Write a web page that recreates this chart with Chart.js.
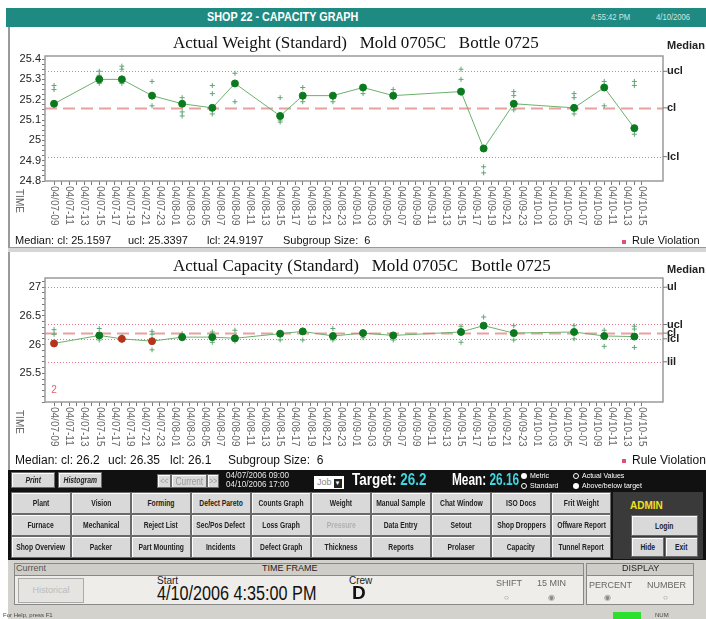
<!DOCTYPE html>
<html>
<head>
<meta charset="utf-8">
<script src="https://cdn.jsdelivr.net/npm/chart.js@4.4.1/dist/chart.umd.min.js"></script>
<style>
  body { margin: 0; width: 706px; height: 619px; position: relative; background: #fff; overflow: hidden;
         font-family: "Liberation Sans", Arial, sans-serif; }
  .abs { position: absolute; white-space: nowrap; }
  .sq { display: inline-block; transform-origin: left center; }
  #header { left: 6px; top: 8px; width: 700px; height: 19px; background: #1f8a82; }
  .panel { position: absolute; left: 8px; width: 698px; background: #fff; border-left: 2px solid #9a9a9a; }
  .title { font-family: "Liberation Serif", "Times New Roman", serif; font-size: 17px; color: #111; }
  .foot { font-size: 11px; color: #111; }
  .side { font-size: 11px; font-weight: bold; color: #222; }
  .btn { position: absolute; background: #d9d9d9; border: 1px solid #6a6a6a; box-sizing: border-box;
         font-weight: bold; font-size: 9px; color: #222; text-align: center; white-space: nowrap;
         display: flex; align-items: center; justify-content: center; overflow: hidden;
         box-shadow: inset 1px 1px 0 #fff; }
  .btn span { display: inline-block; transform: scaleX(0.75); }
  .rad { display: inline-block; width: 6px; height: 6px; border-radius: 50%; background: #fff; margin-right: 3px; vertical-align: middle; }
</style>
</head>
<body>
<div id="header" class="abs"></div>
<div class="abs" style="left:207px;top:10px;font-size:12px;font-weight:bold;color:#fff;"><span class="sq" style="transform:scaleX(0.9);">SHOP 22 - CAPACITY GRAPH</span></div>
<div class="abs" style="left:591px;top:12px;font-size:9px;color:#cfe6e3;"><span class="sq" style="transform:scaleX(0.85);">4:55:42 PM</span></div>
<div class="abs" style="left:656px;top:12px;font-size:9px;color:#cfe6e3;"><span class="sq" style="transform:scaleX(0.85);">4/10/2006</span></div>

<div class="panel" style="top:27px;height:220px;"></div>
<div class="abs" style="left:8px;top:247px;width:698px;height:4px;background:#d6d6d6;border-top:1px solid #999;border-bottom:1px solid #999;"></div>
<div class="panel" style="top:252px;height:218px;"></div>

<canvas id="weightChart" width="696" height="217" class="abs" style="left:10px;top:27px;"></canvas>
<canvas id="capacityChart" width="696" height="217" class="abs" style="left:10px;top:251px;"></canvas>

<div class="abs title" style="left:173px;top:33px;">Actual Weight (Standard)&nbsp;&nbsp;&nbsp;Mold 0705C&nbsp;&nbsp;&nbsp;Bottle 0725</div>
<div class="abs side" style="left:667px;top:39px;">Median</div>
<div class="abs foot" style="left:15px;top:234px;">Median: cl: 25.1597</div>
<div class="abs foot" style="left:128px;top:234px;">ucl: 25.3397</div>
<div class="abs foot" style="left:207px;top:234px;">lcl: 24.9197</div>
<div class="abs foot" style="left:283px;top:234px;">Subgroup Size:&nbsp; 6</div>
<div class="abs" style="left:622px;top:240px;width:4px;height:4px;background:#e05070;"></div>
<div class="abs foot" style="left:632px;top:234px;">Rule Violation</div>

<div class="abs title" style="left:173px;top:256px;">Actual Capacity (Standard)&nbsp;&nbsp;&nbsp;Mold 0705C&nbsp;&nbsp;&nbsp;Bottle 0725</div>
<div class="abs side" style="left:667px;top:263px;">Median</div>
<div class="abs foot" style="left:15px;top:453px;font-size:12px;">Median: cl: 26.2</div>
<div class="abs foot" style="left:108px;top:453px;font-size:12px;">ucl: 26.35</div>
<div class="abs foot" style="left:170px;top:453px;font-size:12px;">lcl: 26.1</div>
<div class="abs foot" style="left:228px;top:453px;font-size:12px;">Subgroup Size:&nbsp; 6</div>
<div class="abs" style="left:622px;top:459px;width:4px;height:4px;background:#e05070;"></div>
<div class="abs foot" style="left:632px;top:453px;font-size:12px;">Rule Violation</div>

<!-- black control bar -->
<div class="abs" style="left:8px;top:470px;width:698px;height:90px;background:#111;"></div>
<div class="btn" style="left:11px;top:472px;width:44px;height:16px;font-style:italic;"><span>Print</span></div>
<div class="btn" style="left:58px;top:472px;width:44px;height:16px;font-style:italic;"><span>Histogram</span></div>
<div class="btn" style="left:157px;top:474px;width:14px;height:14px;color:#999;font-weight:normal;"><span>&lt;&lt;</span></div>
<div class="btn" style="left:171px;top:474px;width:36px;height:14px;color:#999;font-weight:normal;font-size:11px;"><span>Current</span></div>
<div class="btn" style="left:207px;top:474px;width:12px;height:14px;color:#999;font-weight:normal;"><span>&gt;&gt;</span></div>
<div class="abs" style="left:226px;top:471px;font-size:9px;color:#e8e8e8;line-height:9px;"><span class="sq" style="transform:scaleX(0.9);">04/07/2006 09:00<br>04/10/2006 17:00</span></div>
<div class="abs" style="left:314px;top:476px;width:30px;height:13px;background:#fff;font-size:9px;color:#888;line-height:13px;padding-left:3px;box-sizing:border-box;">Job<span style="display:inline-block;width:8px;height:9px;background:#222;color:#fff;font-size:6px;line-height:9px;text-align:center;margin-left:2px;">&#9660;</span></div>
<div class="abs" style="left:352px;top:471px;font-size:16px;font-weight:bold;color:#fff;"><span class="sq" style="transform:scaleX(0.84);">Target: <span style="color:#3ed6e0;">26.2</span></span></div>
<div class="abs" style="left:452px;top:471px;font-size:16px;font-weight:bold;color:#fff;"><span class="sq" style="transform:scaleX(0.74);">Mean: <span style="color:#3ed6e0;">26.16</span></span></div>
<div class="abs" style="left:521px;top:471px;font-size:7px;color:#fff;line-height:10px;"><span class="rad"></span>Metric<br><span class="rad" style="background:#111;border:1px solid #fff;width:4px;height:4px;"></span>Standard</div>
<div class="abs" style="left:573px;top:471px;font-size:7px;color:#fff;line-height:10px;"><span class="rad" style="background:#111;border:1px solid #fff;width:4px;height:4px;"></span>Actual Values<br><span class="rad"></span>Above/below target</div>

<div id="grid"></div>
<div class="abs" style="left:613px;top:492px;width:90px;height:67px;background:#3a3a3a;"></div>
<div class="abs" style="left:630px;top:500px;font-size:10px;font-weight:bold;color:#f0e020;">ADMIN</div>
<div class="btn" style="left:631px;top:515px;width:67px;height:21px;"><span>Login</span></div>
<div class="btn" style="left:631px;top:537px;width:33px;height:20px;"><span>Hide</span></div>
<div class="btn" style="left:665px;top:537px;width:33px;height:20px;"><span>Exit</span></div>

<!-- time frame panel -->
<div class="abs" style="left:8px;top:560px;width:698px;height:59px;background:#d4d2cc;"></div>
<div class="abs" style="left:14px;top:563px;width:568px;height:40px;border:1px solid #888;background:#eeede9;"></div>
<div class="abs" style="left:14px;top:563px;width:568px;height:11px;border:1px solid #888;background:#cfcdc7;"></div>
<div class="abs" style="left:16px;top:563px;font-size:9px;color:#555;">Current</div>
<div class="abs" style="left:262px;top:563px;font-size:9px;color:#222;">TIME FRAME</div>
<div class="abs" style="left:18px;top:578px;width:64px;height:23px;background:#e6e4e0;border:1px solid #aaa;font-size:9px;color:#bbb;text-align:center;line-height:23px;">Historical</div>
<div class="abs" style="left:157px;top:575px;font-size:10px;color:#222;">Start</div>
<div class="abs" style="left:157px;top:582px;font-size:20px;color:#111;"><span class="sq" style="transform:scaleX(0.81);">4/10/2006 4:35:00 PM</span></div>
<div class="abs" style="left:349px;top:575px;font-size:10px;color:#222;">Crew</div>
<div class="abs" style="left:352px;top:582px;font-size:19px;font-weight:bold;color:#111;">D</div>
<div class="abs" style="left:496px;top:578px;font-size:9px;color:#666;">SHIFT</div>
<div class="abs" style="left:537px;top:578px;font-size:9px;color:#666;">15 MIN</div>
<div class="abs" style="left:504px;top:593px;font-size:8px;color:#888;">&#9675;</div>
<div class="abs" style="left:548px;top:593px;font-size:8px;color:#888;">&#9673;</div>
<div class="abs" style="left:586px;top:563px;width:106px;height:40px;border:1px solid #888;background:#eeede9;"></div>
<div class="abs" style="left:586px;top:563px;width:106px;height:11px;border:1px solid #888;background:#cfcdc7;"></div>
<div class="abs" style="left:622px;top:563px;font-size:9px;color:#222;">DISPLAY</div>
<div class="abs" style="left:589px;top:580px;font-size:9px;color:#666;">PERCENT</div>
<div class="abs" style="left:647px;top:580px;font-size:9px;color:#666;">NUMBER</div>
<div class="abs" style="left:604px;top:593px;font-size:8px;color:#888;">&#9673;</div>
<div class="abs" style="left:663px;top:593px;font-size:8px;color:#888;">&#9675;</div>
<div class="abs" style="left:3px;top:612px;font-size:6px;color:#444;">For Help, press F1</div>
<div class="abs" style="left:613px;top:612px;width:28px;height:7px;background:#2ee02e;"></div>
<div class="abs" style="left:655px;top:612px;font-size:6px;color:#444;">NUM</div>

<script>
// x axis: hours since 04/07 09:00, one label every 2 hours
const tickLabels = [
  '04/07-09', '04/07-11', '04/07-13', '04/07-15', '04/07-17', '04/07-19', '04/07-21', '04/07-23',
  '04/08-01', '04/08-03', '04/08-05', '04/08-07', '04/08-09', '04/08-11', '04/08-13', '04/08-15',
  '04/08-17', '04/08-19', '04/08-21', '04/08-23',
  '04/09-01', '04/09-03', '04/09-05', '04/09-07', '04/09-09', '04/09-11', '04/09-13', '04/09-15',
  '04/09-17', '04/09-19', '04/09-21', '04/09-23',
  '04/10-01', '04/10-03', '04/10-05', '04/10-07', '04/10-09', '04/10-11', '04/10-13', '04/10-15'
];

// sample times (hours after 04/07 09:00)
const sampleHours = [0, 6, 9, 13, 17, 21, 24, 30, 33, 37, 41, 45, 54, 57, 61, 69, 73, 77];

// weight chart
const weightMedians = [25.18, 25.30, 25.30, 25.22, 25.18, 25.16, 25.28, 25.12, 25.22, 25.22,
                       25.26, 25.22, 25.24, 24.96, 25.18, 25.16, 25.26, 25.06];
const weightReadings = [
  [25.27, 25.25], [25.34, 25.32, 25.28], [25.365, 25.35, 25.28], [25.29, 25.17],
  [25.21, 25.14, 25.12], [25.27, 25.23, 25.15, 25.13], [25.33, 25.19], [25.21, 25.10, 25.09],
  [25.26, 25.21, 25.19], [25.21, 25.19], [25.23], [25.25, 25.21], [25.35, 25.30, 25.23],
  [24.87, 24.84], [25.24, 25.22, 25.15], [25.23, 25.21, 25.15, 25.13], [25.29, 25.17],
  [25.29, 25.27, 25.03]
];
const weightLimitNames = ['ucl', 'cl', 'lcl'];
const weightLimitValues = [25.3397, 25.1597, 24.9197];
const weightTicks = [24.8, 24.9, 25, 25.1, 25.2, 25.3, 25.4];

// capacity chart
const capacityMedians = [26.02, 26.16, 26.10, 26.06, 26.13, 26.13, 26.11, 26.19, 26.23, 26.15,
                         26.20, 26.16, 26.22, 26.33, 26.20, 26.22, 26.15, 26.14];
const capacityViolation = [1, 0, 1, 1, 0, 0, 0, 0, 0, 0, 0, 0, 0, 0, 0, 0, 0, 0];
const capacityReadings = [
  [26.26, 26.18], [26.28, 26.08], [26.14, 26.07], [26.23, 26.18, 25.91], [26.19, 26.10],
  [26.22, 26.04], [26.25, 26.06], [26.08], [26.08], [26.28, 26.08], [26.12], [26.08],
  [26.32, 26.04], [26.48], [26.33, 26.08], [26.33, 26.10], [26.25, 25.97], [26.32, 26.27, 25.95]
];
const capacityLimitNames = ['ul', 'ucl', 'cl', 'lcl', 'lil'];
const capacityLimitValues = [27, 26.35, 26.2, 26.1, 25.7];
const capacityTicks = [25.5, 26, 26.5, 27];
const capacityNote = { hour: 0, value: 25.2, text: '2' };

const spcPlugin = {
  id: 'spc',
  beforeDatasetsDraw(chart, args, opts) {
    const { ctx, chartArea: a, scales: { y } } = chart;
    ctx.save();
    opts.names.forEach((name, i) => {
      const py = Math.round(y.getPixelForValue(opts.values[i])) + 0.5;
      const center = name === 'cl';
      ctx.beginPath();
      ctx.strokeStyle = center ? '#e8a0a0' : '#e2788a';
      ctx.lineWidth = center ? 2 : 1;
      ctx.setLineDash(center ? [12, 6] : [1, 2]);
      ctx.moveTo(a.left, py);
      ctx.lineTo(a.right, py);
      ctx.stroke();
    });
    ctx.restore();
  },
  afterDraw(chart, args, opts) {
    const { ctx, chartArea: a, scales: { x, y } } = chart;
    ctx.save();
    // plot frame
    ctx.strokeStyle = '#9a9a9a';
    ctx.lineWidth = 1.5;
    ctx.strokeRect(a.left, a.top, a.right - a.left, a.bottom - a.top);
    // limit names on the right
    ctx.font = 'bold 11px "Liberation Sans", Arial, sans-serif';
    ctx.fillStyle = '#222';
    ctx.strokeStyle = '#777';
    ctx.textBaseline = 'middle';
    ctx.lineWidth = 1;
    opts.names.forEach((name, i) => {
      const py = y.getPixelForValue(opts.values[i]);
      ctx.beginPath();
      ctx.moveTo(a.right, py);
      ctx.lineTo(a.right + 4, py);
      ctx.stroke();
      ctx.fillText(name, a.right + 4, py);
    });
    // rotated time labels
    ctx.font = '10px "Liberation Sans", Arial, sans-serif';
    ctx.fillStyle = '#666';
    ctx.textAlign = 'left';
    tickLabels.forEach((label, i) => {
      const px = x.getPixelForValue(i * 2);
      ctx.save();
      ctx.translate(px, a.bottom + 5);
      ctx.rotate(Math.PI / 2);
      ctx.fillText(label, 0, 0);
      ctx.restore();
    });
    ctx.save();
    ctx.translate(9, a.bottom + 8);
    ctx.rotate(Math.PI / 2);
    ctx.fillText('TIME', 0, 0);
    ctx.restore();
    if (opts.note) {
      ctx.font = '10px "Liberation Sans", Arial, sans-serif';
      ctx.fillStyle = '#e06070';
      ctx.textAlign = 'center';
      ctx.fillText(opts.note.text, x.getPixelForValue(opts.note.hour), y.getPixelForValue(opts.note.value));
    }
    ctx.restore();
  }
};

function makeChart(canvasId, medians, readings, pointColors, yMin, yMax, majorTicks, minorStep,
                   limitNames, limitValues, plotTop, xHeight, note) {
  const readingPoints = [];
  readings.forEach((vals, i) => vals.forEach(v => readingPoints.push({ x: sampleHours[i], y: v })));
  const minor = [];
  for (let v = yMin; v <= yMax + 1e-9; v += minorStep) minor.push(+v.toFixed(3));

  return new Chart(document.getElementById(canvasId), {
    type: 'scatter',
    data: {
      datasets: [
        {
          data: sampleHours.map((h, i) => ({ x: h, y: medians[i] })),
          showLine: true,
          borderColor: '#6cb06c',
          borderWidth: 1,
          pointRadius: 3.5,
          pointBackgroundColor: pointColors,
          pointBorderColor: pointColors,
          order: 0
        },
        {
          data: readingPoints,
          pointStyle: 'cross',
          pointRadius: 2.5,
          borderColor: '#5fa673',
          borderWidth: 1,
          order: 1
        }
      ]
    },
    options: {
      responsive: false,
      animation: false,
      layout: { padding: { top: plotTop, right: 43, left: 0, bottom: 0 } },
      plugins: {
        legend: { display: false },
        tooltip: { enabled: false },
        spc: { names: limitNames, values: limitValues, note: note }
      },
      scales: {
        x: {
          type: 'linear',
          min: -1.2,
          max: 80.8,
          afterBuildTicks: s => { s.ticks = tickLabels.map((l, i) => ({ value: i * 2 })).concat(
            tickLabels.slice(0, -1).map((l, i) => ({ value: i * 2 + 1 }))); },
          afterFit: s => { s.height = xHeight; },
          ticks: { display: false },
          grid: { drawOnChartArea: false, drawTicks: true, tickLength: 4, color: '#777' },
          border: { display: false }
        },
        y: {
          min: yMin,
          max: yMax,
          afterBuildTicks: s => { s.ticks = minor.map(v => ({ value: v })); },
          afterFit: s => { s.width = 35; },
          ticks: {
            autoSkip: false,
            color: '#222',
            font: { size: 11, family: '"Liberation Sans", Arial, sans-serif' },
            padding: 1,
            callback: v => majorTicks.some(t => Math.abs(t - v) < 1e-6) ? String(v) : ''
          },
          grid: { drawOnChartArea: false, drawTicks: true, tickLength: 3, color: '#777' },
          border: { display: false }
        }
      }
    },
    plugins: [spcPlugin]
  });
}

makeChart('weightChart', weightMedians, weightReadings, weightMedians.map(() => '#0b7a1e'),
          24.8, 25.415, weightTicks, 0.025, weightLimitNames, weightLimitValues, 29, 63, null);

makeChart('capacityChart', capacityMedians, capacityReadings,
          capacityViolation.map(v => v ? '#b3331c' : '#0b7a1e'),
          25, 27.16, capacityTicks, 0.1, capacityLimitNames, capacityLimitValues, 27, 66, capacityNote);

// navigation buttons
const buttonRows = [
  ['Plant', 'Vision', 'Forming', 'Defect Pareto', 'Counts Graph', 'Weight', 'Manual Sample', 'Chat Window', 'ISO Docs', 'Frit Weight'],
  ['Furnace', 'Mechanical', 'Reject List', 'Sec/Pos Defect', 'Loss Graph', 'Pressure', 'Data Entry', 'Setout', 'Shop Droppers', 'Offware Report'],
  ['Shop Overview', 'Packer', 'Part Mounting', 'Incidents', 'Defect Graph', 'Thickness', 'Reports', 'Prolaser', 'Capacity', 'Tunnel Report']
];
const grid = document.getElementById('grid');
buttonRows.forEach((row, r) => row.forEach((name, c) => {
  const b = document.createElement('div');
  b.className = 'btn';
  b.style.left = (11 + c * 60) + 'px';
  b.style.top = (492 + r * 22) + 'px';
  b.style.width = '60px';
  b.style.height = '22px';
  if (name === 'Pressure') b.style.color = '#b0b0b0';
  const s = document.createElement('span');
  s.textContent = name;
  b.appendChild(s);
  grid.appendChild(b);
}));
</script>
</body>
</html>
